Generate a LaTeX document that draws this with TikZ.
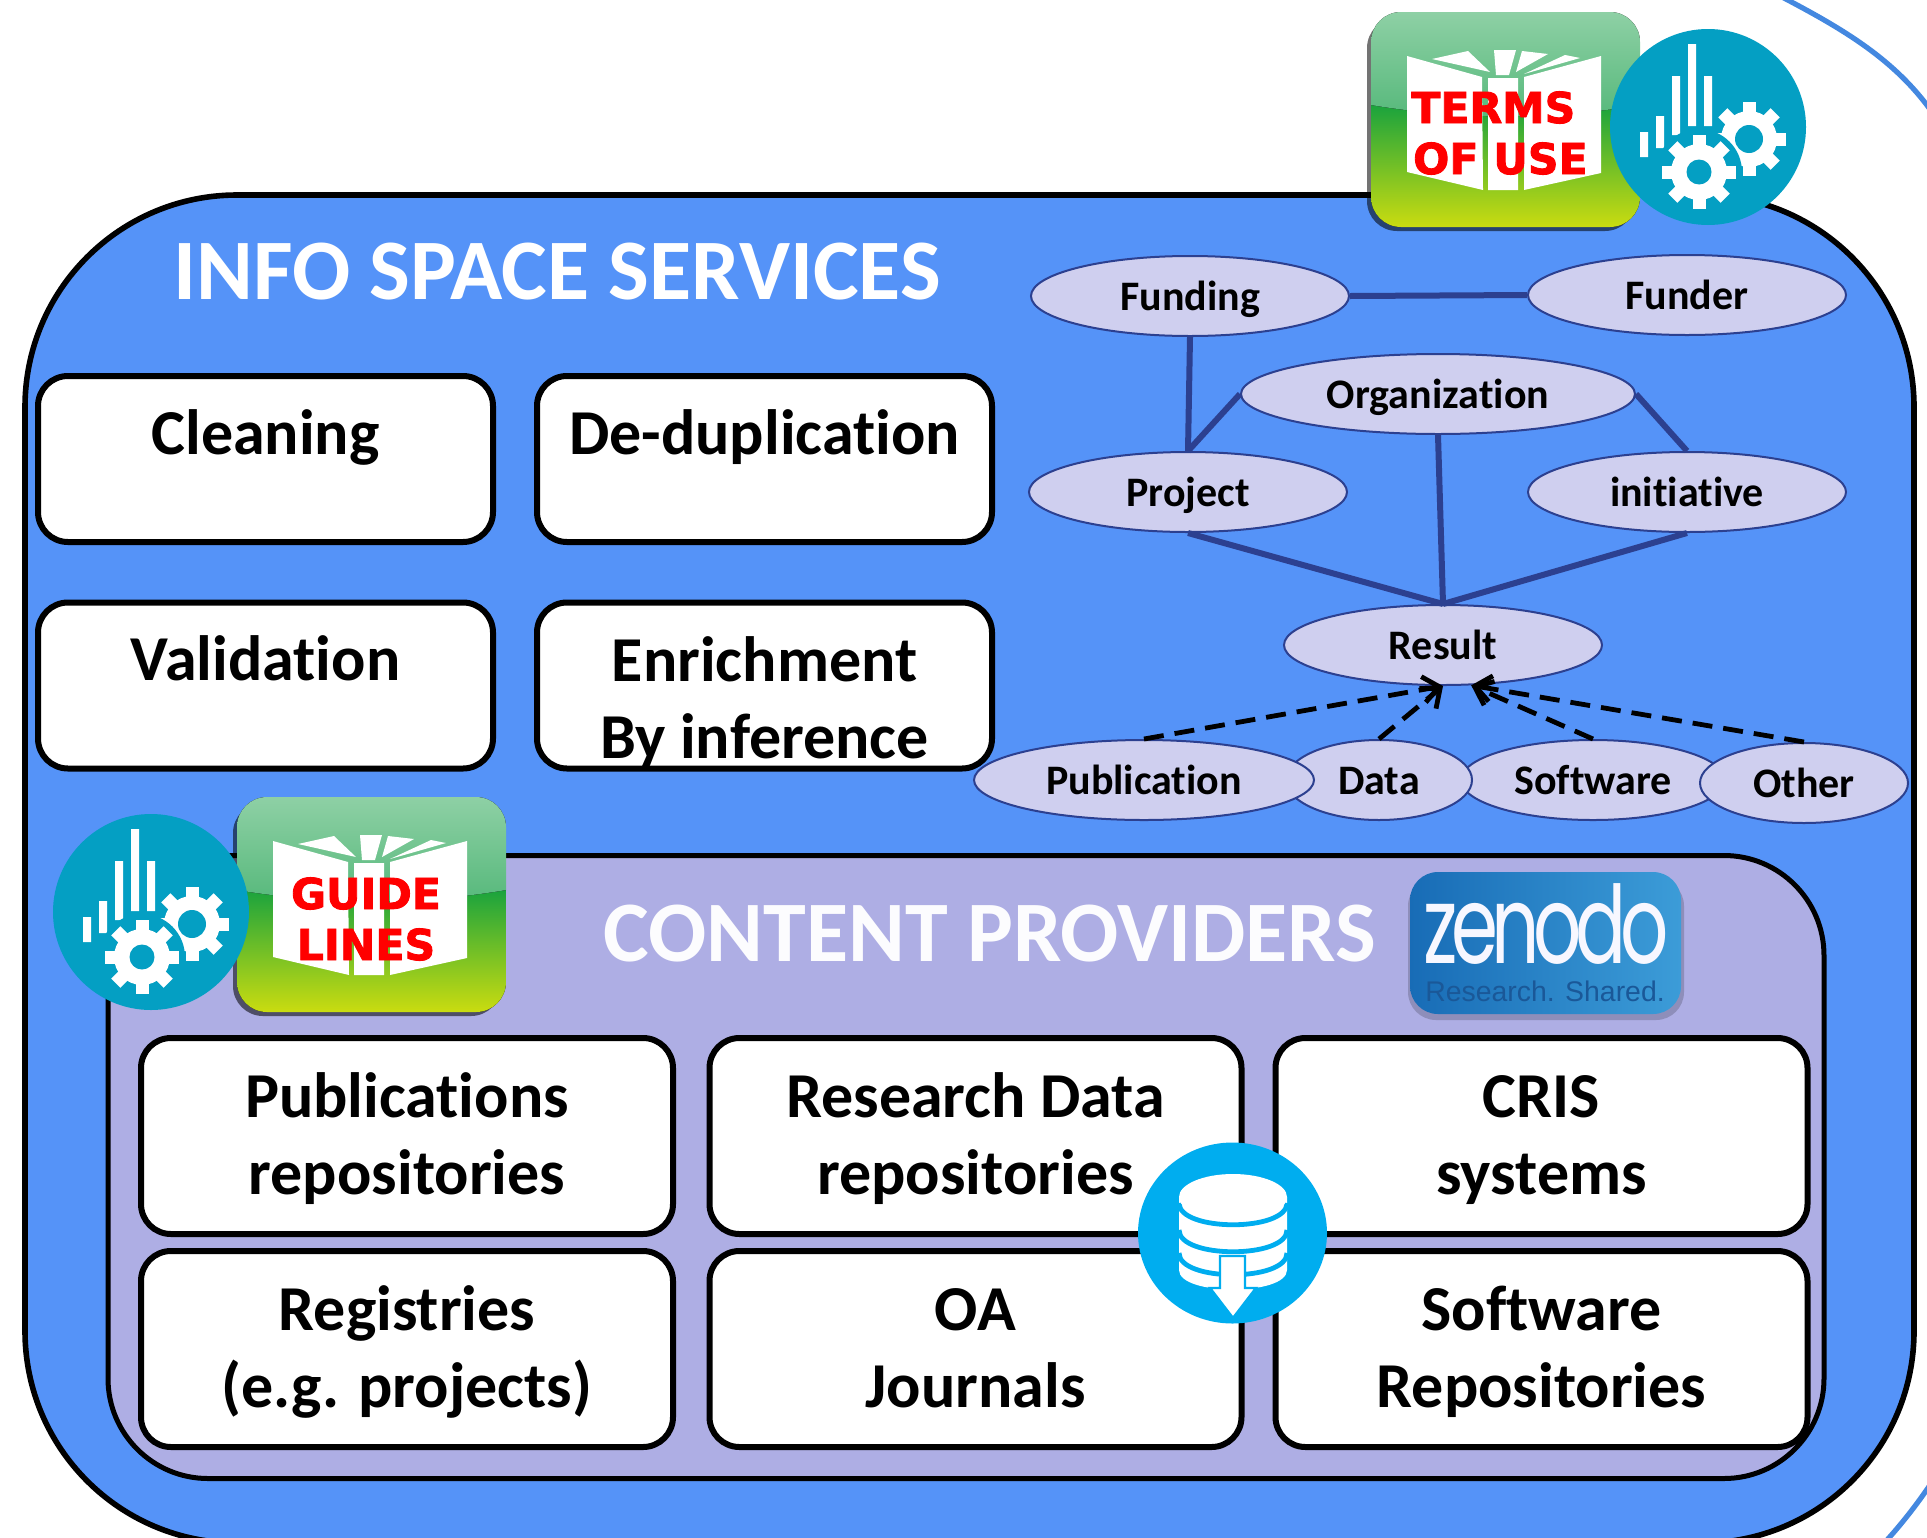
\documentclass[tikz,border=0pt]{standalone}
\usepackage{fontspec}
\setmainfont[Ligatures=NoCommon]{Carlito}
\newfontfamily\stampfont[UprightFont=* Bold,FakeBold=2]{DejaVu Sans}
\newfontfamily\zenfont[FakeStretch=0.7,LetterSpace=-6]{Poppins}
\newfontfamily\libs{Liberation Sans}
\usetikzlibrary{shapes.geometric,arrows.meta,calc}
\definecolor{spaceblue}{HTML}{5593F8}
\definecolor{provider}{HTML}{AEAEE4}
\definecolor{teal}{HTML}{049FC3}
\definecolor{ellfill}{HTML}{CFCFEF}
\definecolor{elledge}{HTML}{2C4090}
\definecolor{dbblue}{HTML}{00ADEF}
\definecolor{arcblue}{HTML}{4488E0}
\definecolor{bkA}{HTML}{0F9F40}
\definecolor{bkB}{HTML}{70C448}
\definecolor{bkC}{HTML}{CADC10}
\definecolor{bkD}{HTML}{8ED0A5}
\definecolor{bkE}{HTML}{55B87A}
\definecolor{zenL}{HTML}{186CB6}
\definecolor{zenR}{HTML}{3C9CD8}
\definecolor{zenT}{HTML}{1A5898}
\tikzset{
  sz/.style 2 args={minimum width=#1*.5pt,minimum height=#2*.5pt},
  panel/.style={rectangle,draw=black,fill=white,line width=3pt,rounded corners=15pt,inner sep=0pt,align=center,
     font=\fontsize{32}{38.5}\selectfont\bfseries},
  smallbox/.style={panel,sz={455}{166},text height=39.2pt,text depth=43.8pt},
  smalltwo/.style={panel,sz={455}{166},text height=78pt,text depth=5pt},
  bigbox/.style={panel,sz={532}{196},text height=78.2pt,text depth=19.8pt},
  ent/.style={ellipse,draw=elledge,fill=ellfill,line width=1pt,inner sep=0pt,text height=20pt,text depth=5.2pt,font=\fontsize{21}{25}\selectfont\bfseries},
  link/.style={draw=elledge,line width=3pt},
  isa/.style={draw=black,line width=2.4pt,dash pattern=on 10pt off 5.5pt,-{Straight Barb[length=8pt,width=13pt]}},
  bigtitle/.style={text=white,inner sep=0pt,font=\fontsize{43.1}{50}\selectfont\bfseries},
  stamp/.style={text=red,inner sep=0pt,align=center,font=\fontsize{21.3}{25.5}\selectfont\stampfont},
  gearpic/.pic={
    \fill[teal] (0,0) circle (98);
    \fill[white] (-68,5) rectangle (-60,30) (-52,-11) rectangle (-44,21)
      (-36,-51) rectangle (-28,8) (-20,-83) rectangle (-12,-1) (-4,-51) rectangle (4,-1);
    \begin{scope}[shift={(41,12)}]
      \fill[white] (0,0) circle (28);
      \foreach \a in {0,45,...,315} \fill[white,rotate=\a] (-6.5,-37) rectangle (6.5,0);
      \fill[teal] (0,0) circle (14);
    \end{scope}
    \fill[teal] (-9,45) circle (43);
    \begin{scope}[shift={(-9,45)}]
      \fill[white] (0,0) circle (28);
      \foreach \a in {0,45,...,315} \fill[white,rotate=\a] (-6.5,-37) rectangle (6.5,0);
      \fill[teal] (0,0) circle (12.5);
    \end{scope}
  },
  bookpic/.pic={
    \fill[black,opacity=.55,rounded corners=15pt] (-4,6) rectangle (264,219);
    \begin{scope}
      \clip[rounded corners=15pt] (0,0) rectangle (269,215);
      \fill[top color=bkA,middle color=bkB,bottom color=bkC] (0,85) rectangle (269,215);
      \fill[top color=bkD,bottom color=bkE]
        (0,0) -- (269,0) -- (269,93) .. controls (180,108) and (90,108) .. (0,93) -- cycle;
    \end{scope}
    \fill[white] (36,44) -- (111,65) -- (112,178) -- (36,160) -- cycle
      (153,65) -- (230,44) -- (230,161) -- (153,178) -- cycle
      (117,66) -- (147,66) -- (147,178) -- (117,178) -- cycle
      (61,47) -- (97,39) -- (119,60) -- cycle
      (123,38) -- (145,38) -- (138,63) -- (125,63) -- cycle
      (151,39) -- (177,42) -- (145,60) -- cycle
      (153,62) -- (194,43) -- (209,46) -- cycle;
  }
}
\begin{document}
\begin{tikzpicture}[x=.5pt,y=-.5pt]
\useasboundingbox (0,0) rectangle (1927,1537);
\fill[white] (0,0) rectangle (1927,1537);
\clip (0,0) rectangle (1927,1537);

% outer arcs
\coordinate (arcA) at (1782,-3);
\coordinate (arcB) at (1932,112);
\coordinate (arcC) at (1932,1482);
\coordinate (arcD) at (1887,1540);
\draw[arcblue,line width=2.6pt] (arcA) .. controls (1845,30) and (1895,60) .. (arcB);
\draw[arcblue,line width=2.6pt] (arcC) .. controls (1920,1500) and (1905,1520) .. (arcD);

% info space
\node[rectangle,draw=black,fill=spaceblue,line width=2.8pt,rounded corners=106pt,inner sep=0pt,sz={1889}{1348}] (space) at (969.5,869) {};
\node[bigtitle] (spacetitle) at (557,272) {INFO SPACE SERVICES};

\node[smallbox] (clean) at (265.5,459) {Cleaning};
\node[smallbox] (dedup) at (764.5,459) {De-duplication};
\node[smallbox] (valid) at (265.5,685.5) {Validation};
\node[smalltwo] (enrich) at (764.5,685.5) {Enrichment\\By inference};

% content providers
\node[rectangle,draw=black,fill=provider,line width=2.5pt,rounded corners=50pt,inner sep=0pt,sz={1716}{623}] (cp) at (966,1167) {};
\node[bigtitle,text=white!96!provider] (cptitle) at (990,934) {CONTENT PROVIDERS};

\node[bigbox] (pubrepo) at (407,1136) {Publications\\repositories};
\node[bigbox] (datarepo) at (975.5,1136) {Research Data\\repositories};
\node[bigbox] (cris) at (1541.5,1136) {CRIS\\systems};
\node[bigbox] (regs) at (407,1349) {Registries\\(e.g. projects)};
\node[bigbox] (journals) at (975.5,1349) {OA\\Journals};
\node[bigbox] (softrepo) at (1541.5,1349) {Software\\Repositories};

% entities
\node[ent,sz={318}{80}] (funding) at (1190,296) {Funding};
\node[ent,sz={318}{80}] (funder) at (1687,295) {Funder};
\node[ent,sz={394}{80}] (org) at (1438,394) {Organization};
\node[ent,sz={318}{80}] (project) at (1188,492) {Project};
\node[ent,sz={318}{80}] (init) at (1687,492) {initiative};
\node[ent,sz={318}{80}] (res) at (1443,645) {Result};
\node[ent,sz={264}{80}] (soft) at (1593,780) {Software};
\node[ent,sz={186}{80}] (data) at (1379,780) {Data};
\node[ent,sz={340}{80}] (pub) at (1144,780) {Publication};
\node[ent,sz={208}{80}] (other) at (1804,783) {Other};

\draw[link] (funding.east) -- (funder.west);
\draw[link] (funding.south) -- (project.north);
\draw[link] (project.north) -- (org.west);
\draw[link] (org.east) -- (init.north);
\draw[link] (org.south) -- (res.north);
\draw[link] (project.south) -- (res.north);
\draw[link] (init.south) -- (res.north);
\draw[isa] (pub.north) -- (res.south);
\draw[isa] (data.north) -- (res.south);
\draw[isa] (soft.north) -- (res.305);
\draw[isa] (other.north) -- (res.305);

% terms of use icon
\pic at (1371,12) {bookpic};
\node[stamp] (terms) at (1497,133) {\hspace*{-3.7pt}TERMS\\\hspace*{3.4pt}OF USE};
\pic at (1708,127) {gearpic};

% guide lines icon
\pic at (237,797) {bookpic};
\node[stamp] (guide) at (366,919) {GUIDE\\LINES};
\pic at (151,912) {gearpic};

% zenodo
\fill[black,opacity=.18,rounded corners=14pt] (1408,878) rectangle (1684,1020);
\node[rectangle,rounded corners=14pt,draw=none,left color=zenL,right color=zenR,inner sep=0pt,sz={271}{142}] (zen) at (1545.5,943) {};
\node[text=white!97!blue,inner sep=0pt,text height=30pt,text depth=0pt,font=\fontsize{54}{60}\selectfont\zenfont] (zenword) at (1546,933) {zenodo};
\node[text=zenT,inner sep=0pt,text height=9pt,text depth=1pt,font=\fontsize{14.2}{18}\selectfont\libs] (zenmotto) at (1545,993) {Research. Shared.};

% database badge
\node[ellipse,fill=dbblue,inner sep=0pt,sz={189}{181}] (db) at (1232.5,1233) {};
\fill[white] (1179,1197) -- (1287,1197) -- (1287,1270) .. controls (1287,1296) and (1179,1296) .. (1179,1270) -- cycle;
\foreach \c in {1203,1230,1253}
  \draw[dbblue,line width=2.4pt] (1179,\c) .. controls (1179,\c+29) and (1287,\c+29) .. (1287,\c);
\fill[white] (1233,1197) ellipse [x radius=54,y radius=23];
\filldraw[fill=white,draw=dbblue,line width=1.2pt] (1220,1256) -- (1245,1256) -- (1245,1288) -- (1256,1288) -- (1233,1318) -- (1210,1288) -- (1220,1288) -- cycle;
\end{tikzpicture}
\end{document}
